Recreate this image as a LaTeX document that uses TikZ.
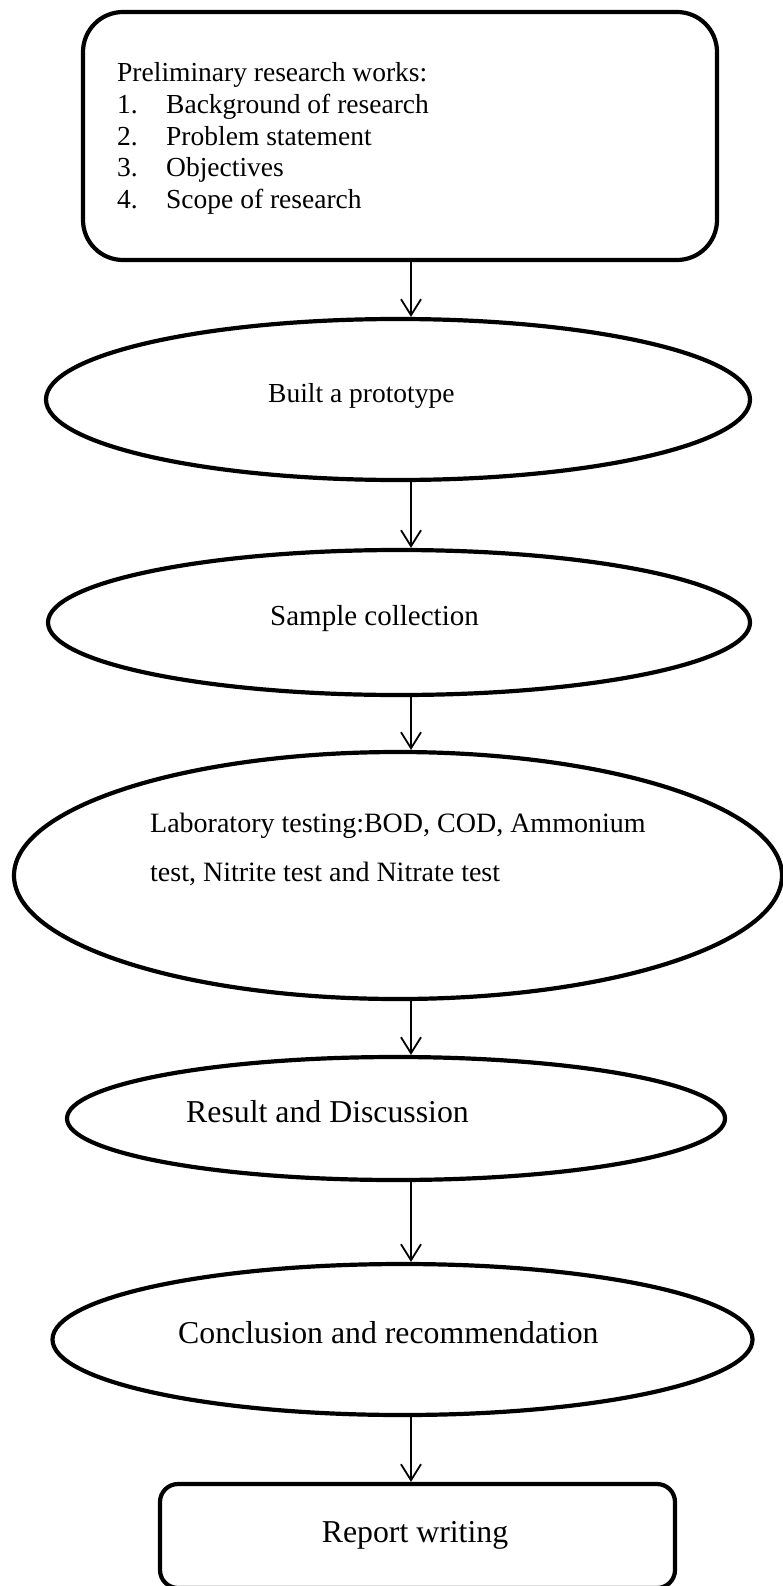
\documentclass[tikz,border=0pt]{standalone}
\usepackage{fontspec}
\setmainfont{Liberation Serif}
\usetikzlibrary{arrows.meta,shapes.geometric}

\tikzset{
  boxframe/.style={draw, line width=4.2pt, rectangle, inner sep=0pt},
  oval/.style={draw, line width=4.2pt, ellipse, inner sep=0pt},
  flow/.style={draw, line width=1.8pt, -{Straight Barb[length=16pt,width=20pt]}},
  txt/.style={inner sep=0pt, anchor=base west},
  small/.style={font=\fontsize{27.5}{32}\selectfont},
  large/.style={font=\fontsize{31.8}{36}\selectfont},
}

\begin{document}
\begin{tikzpicture}[x=1pt, y=-1pt]
\useasboundingbox (0,0) rectangle (783,1586);

% column of the connectors
\coordinate (ax) at (411,0);

% preliminary works box
\node[boxframe, rounded corners=40pt, minimum width=634pt, minimum height=248pt] (prelim) at (400,136) {};
\node[txt, small] (prelimhead) at (117,82) {Preliminary research works:};
\node[txt, small] (n1) at (117,114) {1.};
\node[txt, small] (t1) at (166,114) {Background of research};
\node[txt, small] (n2) at (117,146) {2.};
\node[txt, small] (t2) at (166,146) {Problem statement};
\node[txt, small] (n3) at (117,177) {3.};
\node[txt, small] (t3) at (166,177) {Objectives};
\node[txt, small] (n4) at (117,209) {4.};
\node[txt, small] (t4) at (166,209) {Scope of research};

% process steps
\node[oval, minimum width=704pt, minimum height=161pt] (proto) at (398,399.5) {};
\node[txt, small] (prototxt) at (268,402) {Built a prototype};

\node[oval, minimum width=702pt, minimum height=145pt] (sample) at (399,622.5) {};
\node[txt, font=\fontsize{29}{33}\selectfont] (sampletxt) at (270,625) {Sample collection};

\node[oval, minimum width=768pt, minimum height=247pt] (lab) at (398,875.5) {};
\node[txt, font=\fontsize{28}{33}\selectfont] (labtxt1) at (150,832) {Laboratory testing:BOD, COD, Ammonium};
\node[txt, font=\fontsize{28}{33}\selectfont] (labtxt2) at (150,881) {test, Nitrite test and Nitrate test};

\node[oval, minimum width=658pt, minimum height=123pt] (result) at (396,1118.5) {};
\node[txt, large] (resulttxt) at (186,1122) {Result and Discussion};

\node[oval, minimum width=700pt, minimum height=151pt] (concl) at (402.5,1339.5) {};
\node[txt, large] (concltxt) at (178,1343) {Conclusion and recommendation};

\node[boxframe, rounded corners=18pt, minimum width=515pt, minimum height=104pt] (report) at (417.5,1536) {};
\node[large, inner sep=0pt, anchor=base] (reporttxt) at (415,1542) {Report writing};

% connectors
\draw[flow] (ax |- prelim.south) -- (ax |- proto.north);
\draw[flow] (ax |- proto.south) -- (ax |- sample.north);
\draw[flow] (ax |- sample.south) -- (ax |- lab.north);
\draw[flow] (ax |- lab.south) -- (ax |- result.north);
\draw[flow] (ax |- result.south) -- (ax |- concl.north);
\draw[flow] (ax |- concl.south) -- (ax |- report.north);
\end{tikzpicture}
\end{document}
